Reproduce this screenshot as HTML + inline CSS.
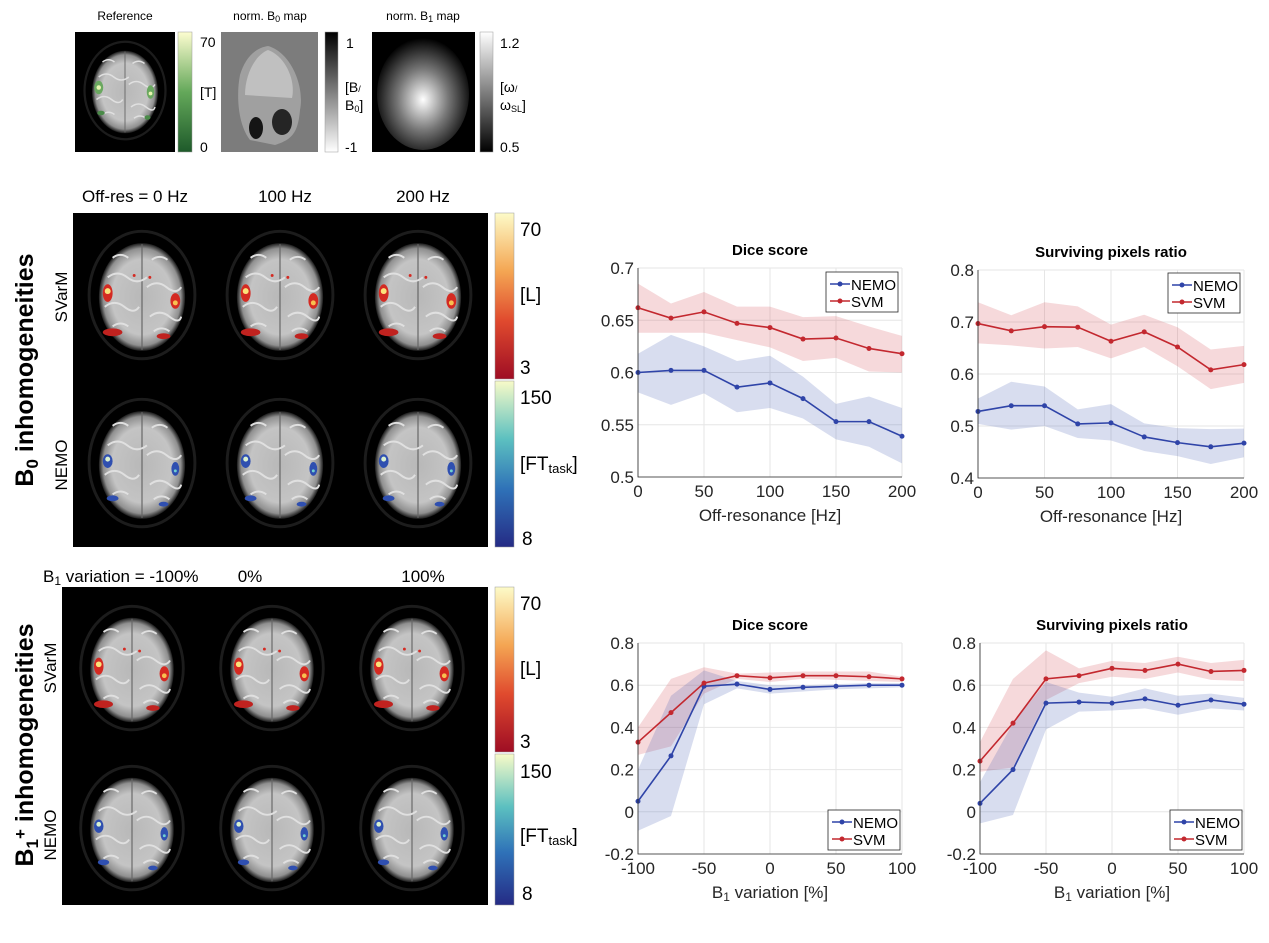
<!DOCTYPE html>
<html><head><meta charset="utf-8"><style>
html,body{margin:0;padding:0;background:#fff;}
svg{display:block;font-family:"Liberation Sans",Arial,sans-serif;}
</style></head><body>
<svg id="fig" width="1269" height="943" viewBox="0 0 1269 943" xmlns="http://www.w3.org/2000/svg">
<defs>
<radialGradient id="brainG" cx="50%" cy="50%" r="50%">
<stop offset="0" stop-color="#b8b8b8"/><stop offset="0.7" stop-color="#c4c4c4"/><stop offset="0.9" stop-color="#909090"/><stop offset="1" stop-color="#1a1a1a"/></radialGradient>
<radialGradient id="b1G" cx="50%" cy="55%" r="55%"><stop offset="0" stop-color="#fff"/><stop offset="0.5" stop-color="#777"/><stop offset="1" stop-color="#000"/></radialGradient>
<clipPath id="b1clip"><rect x="372" y="32" width="103" height="120"/></clipPath>
<linearGradient id="greenCb" x1="0" y1="1" x2="0" y2="0"><stop offset="0" stop-color="#1e5a2a"/><stop offset="0.5" stop-color="#64a85a"/><stop offset="1" stop-color="#fdfdd0"/></linearGradient>
<linearGradient id="grayCb" x1="0" y1="1" x2="0" y2="0"><stop offset="0" stop-color="#fff"/><stop offset="1" stop-color="#000"/></linearGradient>
<linearGradient id="grayCb2" x1="0" y1="1" x2="0" y2="0"><stop offset="0" stop-color="#000"/><stop offset="1" stop-color="#fff"/></linearGradient>
<linearGradient id="hotCb" x1="0" y1="1" x2="0" y2="0"><stop offset="0" stop-color="#9e0d24"/><stop offset="0.35" stop-color="#e04a2e"/><stop offset="0.65" stop-color="#f4a653"/><stop offset="1" stop-color="#fdfbc8"/></linearGradient>
<linearGradient id="coolCb" x1="0" y1="1" x2="0" y2="0"><stop offset="0" stop-color="#252b85"/><stop offset="0.35" stop-color="#2f72b8"/><stop offset="0.65" stop-color="#5cc0c0"/><stop offset="1" stop-color="#f8fbc8"/></linearGradient>
<g id="brain">
<ellipse cx="0" cy="-2" rx="54" ry="65" fill="none" stroke="#1c1c1c" stroke-width="3"/>
<ellipse cx="0" cy="0" rx="44" ry="55" fill="url(#brainG)"/>
<line x1="0" y1="-54" x2="0" y2="54" stroke="#666" stroke-width="1.2"/>
<path d="M-35,-20 q10,-8 20,0 t20,0 M5,-10 q10,-8 20,0 t15,0 M-38,10 q10,-8 20,0 t15,0 M8,20 q10,-8 20,0 t12,0 M-30,-40 q8,-6 16,0 M10,-38 q8,-6 16,0 M-30,30 q8,-6 16,0 M12,35 q8,-6 16,0" stroke="#e0e0e0" stroke-width="2" fill="none"/>
</g>
<g id="redBlobs">
<ellipse cx="-35" cy="-4" rx="5" ry="9" fill="#d42a22"/><circle cx="-35" cy="-6" r="3" fill="#fbe27a"/>
<ellipse cx="34" cy="4" rx="5" ry="8" fill="#d42a22"/><circle cx="34" cy="6" r="2.5" fill="#f8c050"/>
<ellipse cx="-30" cy="36" rx="10" ry="4" fill="#c0221f"/><ellipse cx="22" cy="40" rx="7" ry="3" fill="#c0221f"/>
<circle cx="-8" cy="-22" r="1.5" fill="#d42a22"/><circle cx="8" cy="-20" r="1.5" fill="#d42a22"/>
</g>
<g id="blueBlobs">
<ellipse cx="-35" cy="-4" rx="5" ry="7" fill="#2f4fb0"/><circle cx="-35" cy="-6" r="2.5" fill="#d8f0d0"/>
<ellipse cx="34" cy="4" rx="4" ry="7" fill="#2f4fb0"/><circle cx="34" cy="6" r="1.5" fill="#70d0d0"/>
<ellipse cx="-30" cy="34" rx="6" ry="3" fill="#2f4fb0"/><ellipse cx="22" cy="40" rx="5" ry="2.5" fill="#2f4fb0"/>
</g>
</defs>

<!-- top small panels -->
<text x="125" y="20" font-size="12" text-anchor="middle">Reference</text>
<rect x="75" y="32" width="100" height="120" fill="#000"/>
<g transform="translate(125,92) scale(0.75)"><use href="#brain"/>
<ellipse cx="-35" cy="-6" rx="6" ry="9" fill="#6aa860"/><circle cx="-35" cy="-6" r="3" fill="#e8f5b0"/><ellipse cx="34" cy="0" rx="5" ry="9" fill="#6aa860"/><circle cx="34" cy="2" r="2.5" fill="#e8f5b0"/><ellipse cx="-32" cy="28" rx="5" ry="3" fill="#4a8a48"/><ellipse cx="30" cy="34" rx="4" ry="3" fill="#4a8a48"/></g>
<rect x="178" y="32" width="14" height="120" fill="url(#greenCb)" stroke="#999" stroke-width="0.5"/>
<text x="200" y="47" font-size="14">70</text><text x="200" y="97" font-size="14">[T]</text><text x="200" y="152" font-size="14">0</text>

<text x="270" y="20" font-size="12" text-anchor="middle">norm. B<tspan font-size="9" dy="2">0</tspan><tspan dy="-2"> map</tspan></text>
<rect x="221" y="32" width="97" height="120" fill="#7c7c7c"/>
<path d="M268,46 C290,52 305,85 300,110 C298,135 290,140 275,145 L250,140 C238,125 236,95 240,75 C245,58 255,48 268,46Z" fill="#a0a0a0"/>
<path d="M268,50 C285,56 296,80 292,98 L245,95 C245,75 255,55 268,50Z" fill="#c0c0c0"/>
<ellipse cx="256" cy="128" rx="7" ry="11" fill="#151515"/><ellipse cx="282" cy="122" rx="10" ry="13" fill="#252525"/>
<rect x="325" y="32" width="13" height="120" fill="url(#grayCb)" stroke="#999" stroke-width="0.5"/>
<text x="346" y="48" font-size="14">1</text><text x="345" y="92" font-size="14">[B<tspan font-size="9">/</tspan></text><text x="345" y="110" font-size="14">B<tspan font-size="9" dy="2">0</tspan><tspan dy="-2">]</tspan></text><text x="345" y="152" font-size="14">-1</text>

<text x="423" y="20" font-size="12" text-anchor="middle">norm. B<tspan font-size="9" dy="2">1</tspan><tspan dy="-2"> map</tspan></text>
<rect x="372" y="32" width="103" height="120" fill="#000"/>
<ellipse cx="423" cy="94" rx="46" ry="56" fill="url(#b1G)" clip-path="url(#b1clip)"/>
<rect x="480" y="32" width="13" height="120" fill="url(#grayCb2)" stroke="#999" stroke-width="0.5"/>
<text x="500" y="48" font-size="14">1.2</text><text x="500" y="92" font-size="14">[ω<tspan font-size="9">/</tspan></text><text x="500" y="110" font-size="14">ω<tspan font-size="9" dy="2">SL</tspan><tspan dy="-2">]</tspan></text><text x="500" y="152" font-size="14">0.5</text>

<!-- B0 section -->
<text x="82" y="202" font-size="17">Off-res = 0 Hz</text>
<text x="285" y="202" font-size="17" text-anchor="middle">100 Hz</text>
<text x="423" y="202" font-size="17" text-anchor="middle">200 Hz</text>
<rect x="73" y="213" width="415" height="334" fill="#000"/>
<rect x="495" y="213" width="19" height="166" fill="url(#hotCb)" stroke="#999" stroke-width="0.5"/>
<rect x="495" y="381" width="19" height="166" fill="url(#coolCb)" stroke="#999" stroke-width="0.5"/>
<text x="520" y="236" font-size="19">70</text><text x="520" y="301" font-size="19">[L]</text><text x="520" y="374" font-size="19">3</text>
<text x="520" y="404" font-size="19">150</text><text x="520" y="470" font-size="19">[FT<tspan font-size="13" dy="3">task</tspan><tspan dy="-3">]</tspan></text><text x="522" y="545" font-size="19">8</text>
<text transform="translate(33,370) rotate(-90)" font-size="25" font-weight="bold" text-anchor="middle">B<tspan font-size="17" dy="5">0</tspan><tspan dy="-5"> inhomogeneities</tspan></text>
<text transform="translate(67,297) rotate(-90)" font-size="17" text-anchor="middle">SVarM</text>
<text transform="translate(67,465) rotate(-90)" font-size="17" text-anchor="middle">NEMO</text>

<!-- B1 section -->
<text x="43" y="582" font-size="17">B<tspan font-size="12" dy="3">1</tspan><tspan dy="-3"> variation = -100%</tspan></text>
<text x="250" y="582" font-size="17" text-anchor="middle">0%</text>
<text x="423" y="582" font-size="17" text-anchor="middle">100%</text>
<rect x="62" y="587" width="426" height="318" fill="#000"/>
<rect x="495" y="587" width="19" height="165" fill="url(#hotCb)" stroke="#999" stroke-width="0.5"/>
<rect x="495" y="754" width="19" height="151" fill="url(#coolCb)" stroke="#999" stroke-width="0.5"/>
<text x="520" y="610" font-size="19">70</text><text x="520" y="675" font-size="19">[L]</text><text x="520" y="748" font-size="19">3</text>
<text x="520" y="778" font-size="19">150</text><text x="520" y="842" font-size="19">[FT<tspan font-size="13" dy="3">task</tspan><tspan dy="-3">]</tspan></text><text x="522" y="900" font-size="19">8</text>
<text transform="translate(33,745) rotate(-90)" font-size="25" font-weight="bold" text-anchor="middle">B<tspan font-size="17" dy="5">1</tspan><tspan dy="-12" font-size="17">+</tspan><tspan dy="7"> inhomogeneities</tspan></text>
<text transform="translate(56,668) rotate(-90)" font-size="17" text-anchor="middle">SVarM</text>
<text transform="translate(56,835) rotate(-90)" font-size="17" text-anchor="middle">NEMO</text>

<g id="cells"></g>
<g id="charts"></g>
</svg>
<script>
// ---- chart data ----
const offres = [0,25,50,75,100,125,150,175,200];
const b1var = [-100,-75,-50,-25,0,25,50,75,100];
const dice0Svm = [0.662,0.652,0.658,0.647,0.643,0.632,0.633,0.623,0.618];
const dice0SvmHi = [0.685,0.666,0.677,0.663,0.663,0.653,0.654,0.644,0.635];
const dice0SvmLo = [0.638,0.638,0.638,0.631,0.624,0.611,0.614,0.601,0.600];
const dice0Nemo = [0.600,0.602,0.602,0.586,0.590,0.575,0.553,0.553,0.539];
const dice0NemoHi = [0.618,0.636,0.625,0.611,0.616,0.596,0.570,0.577,0.566];
const dice0NemoLo = [0.581,0.569,0.580,0.562,0.566,0.556,0.536,0.529,0.513];
const surv0Svm = [0.697,0.683,0.691,0.690,0.663,0.681,0.652,0.608,0.618];
const surv0SvmHi = [0.738,0.713,0.738,0.730,0.695,0.714,0.690,0.647,0.654];
const surv0SvmLo = [0.659,0.655,0.649,0.652,0.630,0.652,0.615,0.571,0.583];
const surv0Nemo = [0.528,0.539,0.539,0.504,0.506,0.479,0.468,0.460,0.467];
const surv0NemoHi = [0.553,0.585,0.576,0.532,0.542,0.505,0.496,0.494,0.495];
const surv0NemoLo = [0.504,0.493,0.500,0.477,0.472,0.452,0.442,0.427,0.440];
const dice1Svm = [0.33,0.47,0.61,0.645,0.635,0.645,0.645,0.64,0.63];
const dice1SvmHi = [0.40,0.63,0.685,0.655,0.66,0.665,0.665,0.665,0.64];
const dice1SvmLo = [0.27,0.31,0.56,0.63,0.615,0.63,0.625,0.62,0.615];
const dice1Nemo = [0.05,0.265,0.595,0.605,0.58,0.59,0.595,0.60,0.60];
const dice1NemoHi = [0.20,0.55,0.67,0.62,0.60,0.60,0.605,0.61,0.61];
const dice1NemoLo = [-0.09,-0.02,0.51,0.585,0.56,0.57,0.58,0.585,0.59];
const surv1Svm = [0.24,0.42,0.63,0.645,0.68,0.67,0.70,0.665,0.67];
const surv1SvmHi = [0.33,0.63,0.765,0.68,0.715,0.705,0.735,0.705,0.72];
const surv1SvmLo = [0.19,0.21,0.53,0.61,0.64,0.63,0.66,0.625,0.62];
const surv1Nemo = [0.04,0.20,0.515,0.52,0.515,0.535,0.505,0.53,0.51];
const surv1NemoHi = [0.14,0.42,0.615,0.565,0.545,0.585,0.55,0.56,0.54];
const surv1NemoLo = [-0.055,-0.015,0.39,0.475,0.48,0.49,0.46,0.49,0.48];
const xTicks0 = [0,50,100,150,200];
const xTicks1 = [-100,-50,0,50,100];
const yTicksDice0 = [0.5,0.55,0.6,0.65,0.7];
const yTicksSurv0 = [0.4,0.5,0.6,0.7,0.8];
const yTicks1 = [-0.2,0,0.2,0.4,0.6,0.8];

const NS='http://www.w3.org/2000/svg';
function mk(tag,attrs,parent){const e=document.createElementNS(NS,tag);for(const k in attrs)e.setAttribute(k,attrs[k]);parent.appendChild(e);return e;}

const cells=document.getElementById('cells');
function brainCell(cx,cy,blob,sc){
  const g=mk('g',{transform:`translate(${cx},${cy}) scale(${sc})`},cells);
  
  
  mk('use',{href:'#brain'},g);mk('use',{href:blob},g);
}
[142,280,418].forEach(cx=>{brainCell(cx,297,'#redBlobs',0.98);brainCell(cx,465,'#blueBlobs',0.98);});
[132,272,412].forEach(cx=>{brainCell(cx,670,'#redBlobs',0.95);brainCell(cx,830,'#blueBlobs',0.95);});

const charts=document.getElementById('charts');
function chart(o){
  const g=mk('g',{},charts);
  
  
  const X=v=>o.x0+(v-o.xmin)/(o.xmax-o.xmin)*(o.x1-o.x0);
  const Y=v=>o.y1-(v-o.ymin)/(o.ymax-o.ymin)*(o.y1-o.y0);
  mk('rect',{x:o.x0,y:o.y0,width:o.x1-o.x0,height:o.y1-o.y0,fill:'#fff'},g);
  o.xt.forEach(t=>{mk('line',{x1:X(t),x2:X(t),y1:o.y0,y2:o.y1,stroke:'#e6e6e6','stroke-width':1},g);
    const tx=mk('text',{x:X(t),y:o.y1+20,'font-size':17,'text-anchor':'middle',fill:'#262626'},g);tx.textContent=t;});
  o.yt.forEach(t=>{mk('line',{x1:o.x0,x2:o.x1,y1:Y(t),y2:Y(t),stroke:'#e6e6e6','stroke-width':1},g);
    const tx=mk('text',{x:o.x0-4,y:Y(t)+6,'font-size':17,'text-anchor':'end',fill:'#262626'},g);tx.textContent=t;});
  const band=(hi,lo,col)=>{let d='';o.xs.forEach((x,i)=>d+=(i?'L':'M')+X(x)+','+Y(hi[i]));
    for(let i=o.xs.length-1;i>=0;i--)d+='L'+X(o.xs[i])+','+Y(lo[i]);
    const p=mk('path',{d:d+'Z',fill:col,'fill-opacity':0.2},g);
    
    };
  const line=(ys,col,nm)=>{const p=mk('polyline',{points:o.xs.map((x,i)=>X(x)+','+Y(ys[i])).join(' '),fill:'none',stroke:col,'stroke-width':1.6},g);
    
    
    o.xs.forEach((x,i)=>{const c=mk('circle',{cx:X(x),cy:Y(ys[i]),r:2.5,fill:col},g);
      
      });};
  band(o.sh,o.sl,'#d0424a');band(o.nh,o.nl,'#3b56b0');
  line(o.n,'#2f44a8','nemo');line(o.s,'#c3282f','svm');
  mk('polyline',{points:`${o.x0},${o.y0} ${o.x0},${o.y1} ${o.x1},${o.y1}`,fill:'none',stroke:'#262626','stroke-width':0.8},g);
  const tt=mk('text',{x:(o.x0+o.x1)/2,y:o.y0-13,'font-size':15,'font-weight':'bold','text-anchor':'middle'},g);tt.textContent=o.title;
  const xl=mk('text',{x:(o.x0+o.x1)/2,y:o.y1+44,'font-size':17,'text-anchor':'middle',fill:'#262626'},g);
  if(o.b1){xl.innerHTML='B<tspan font-size="12" dy="3">1</tspan><tspan dy="-3"> variation [%]</tspan>';}else xl.textContent='Off-resonance [Hz]';
  const lg=mk('g',{},g);
  
  
  mk('rect',{x:o.lx,y:o.ly,width:72,height:40,fill:'#fff',stroke:'#262626','stroke-width':0.8},lg);
  [['NEMO','#2f44a8'],['SVM','#c3282f']].forEach((e,i)=>{const yy=o.ly+12+i*17;
    mk('line',{x1:o.lx+4,x2:o.lx+24,y1:yy,y2:yy,stroke:e[1],'stroke-width':1.6},lg);
    mk('circle',{cx:o.lx+14,cy:yy,r:2.5,fill:e[1]},lg);
    const t=mk('text',{x:o.lx+25,y:yy+6,'font-size':15},lg);t.textContent=e[0];});
}
chart({name:'dice-offres-chart',title:'Dice score',x0:638,x1:902,y0:268,y1:477,xmin:0,xmax:200,ymin:0.5,ymax:0.7,xs:offres,xt:xTicks0,yt:yTicksDice0,
 s:dice0Svm,sh:dice0SvmHi,sl:dice0SvmLo,n:dice0Nemo,nh:dice0NemoHi,nl:dice0NemoLo,lx:826,ly:272});
chart({name:'surv-offres-chart',title:'Surviving pixels ratio',x0:978,x1:1244,y0:270,y1:478,xmin:0,xmax:200,ymin:0.4,ymax:0.8,xs:offres,xt:xTicks0,yt:yTicksSurv0,
 s:surv0Svm,sh:surv0SvmHi,sl:surv0SvmLo,n:surv0Nemo,nh:surv0NemoHi,nl:surv0NemoLo,lx:1168,ly:273});
chart({name:'dice-b1-chart',title:'Dice score',x0:638,x1:902,y0:643,y1:854,xmin:-100,xmax:100,ymin:-0.2,ymax:0.8,xs:b1var,xt:xTicks1,yt:yTicks1,b1:true,
 s:dice1Svm,sh:dice1SvmHi,sl:dice1SvmLo,n:dice1Nemo,nh:dice1NemoHi,nl:dice1NemoLo,lx:828,ly:810});
chart({name:'surv-b1-chart',title:'Surviving pixels ratio',x0:980,x1:1244,y0:643,y1:854,xmin:-100,xmax:100,ymin:-0.2,ymax:0.8,xs:b1var,xt:xTicks1,yt:yTicks1,b1:true,
 s:surv1Svm,sh:surv1SvmHi,sl:surv1SvmLo,n:surv1Nemo,nh:surv1NemoHi,nl:surv1NemoLo,lx:1170,ly:810});
</script>
</body></html>
